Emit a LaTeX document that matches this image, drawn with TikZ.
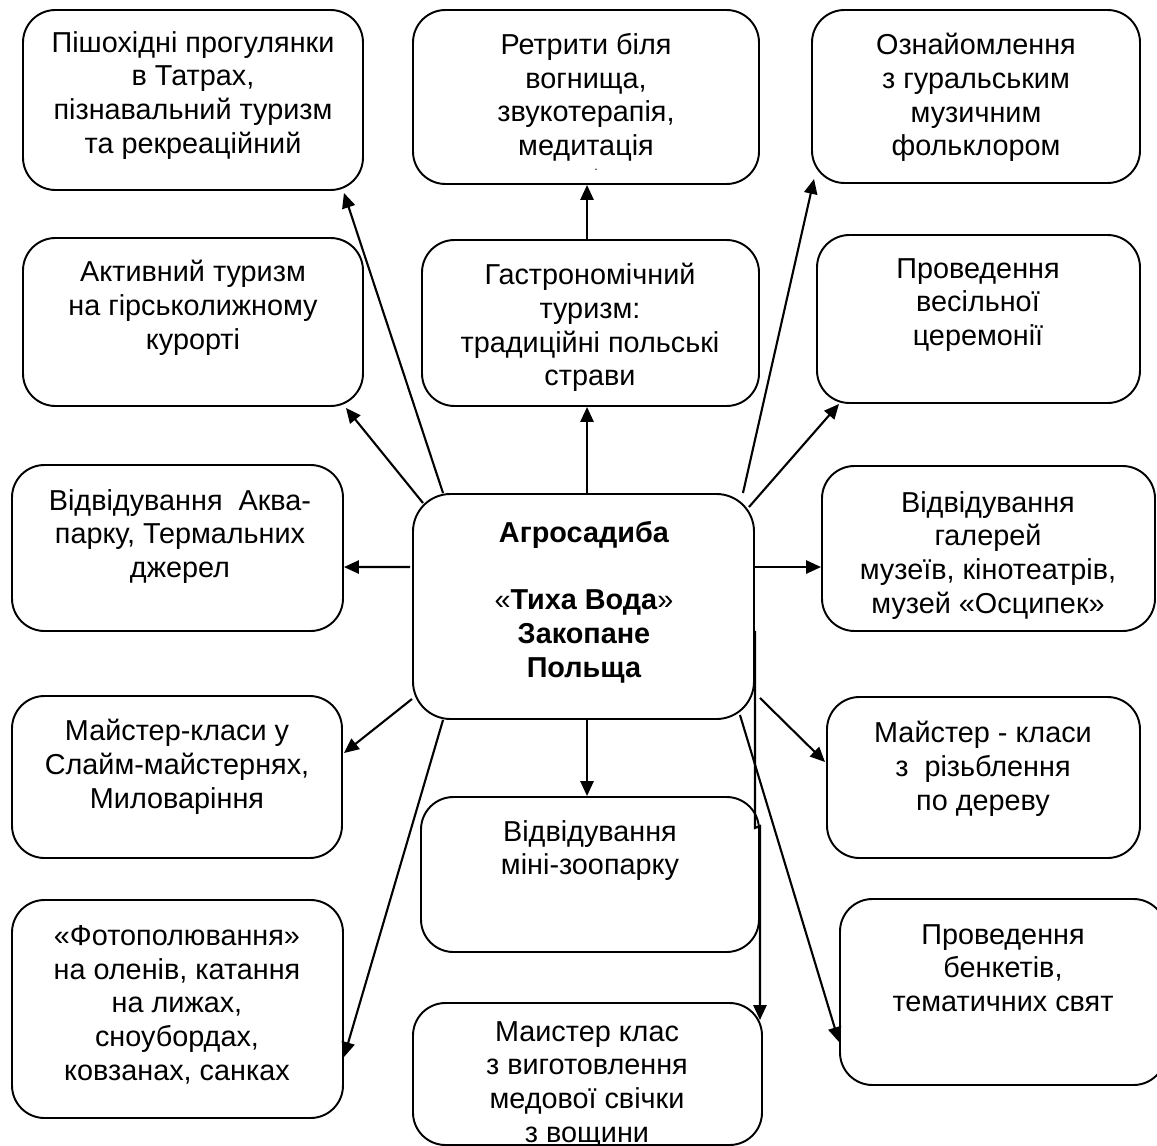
\documentclass[tikz,border=0pt]{standalone}
\usepackage{fontspec}
\setmainfont{Liberation Sans}
\usetikzlibrary{arrows.meta,calc,fit}
\begin{document}
\begin{tikzpicture}[x=0.02cm,y=-0.02cm,
  box/.style={draw,line width=1.1pt,rounded corners=0.65cm,inner sep=0pt},
  lbl/.style={anchor=north,align=center,inner sep=0pt,font=\fontsize{16.4}{19.2}\selectfont},
  arr/.style={line width=1.2pt,-{Triangle[length=8.5pt,width=7.5pt]}}]
\useasboundingbox (0,0) rectangle (1157,1146);
% boxes
\node[box,fit={(23,10) (363,190)}] (b1) {};
\node[box,fit={(413,10) (759,184)}] (b2) {};
\node[box,fit={(812,10) (1140,183)}] (b3) {};
\node[box,fit={(23,238) (363,406)}] (b4) {};
\node[box,fit={(422,240) (759,406)}] (b5) {};
\node[box,fit={(817,235) (1140,403)}] (b6) {};
\node[box,fit={(12,465) (343,631)}] (b7) {};
\node[box,rounded corners=0.75cm,fit={(413,494) (754,719)}] (c) {};
\node[box,fit={(822,466) (1155,631)}] (b9) {};
\node[box,fit={(12,696) (342,858)}] (b10) {};
\node[box,fit={(421,797) (759,952)}] (b11) {};
\node[box,fit={(827,697) (1140,858)}] (b12) {};
\node[box,fit={(12,900) (343,1118)}] (b13) {};
\node[box,fit={(413,1003) (762,1145)}] (b14) {};
\node[box,fit={(840,899) (1166,1085)}] (b15) {};
% labels
\node[lbl] (t1) at (193,31) {Пішохідні прогулянки\\в Татрах,\\пізнавальний туризм\\та рекреаційний};
\node[lbl] (t2) at (586,33) {Ретрити біля\\вогнища,\\звукотерапія,\\медитація};
\node[anchor=base,inner sep=0pt,font=\fontsize{7}{8}\selectfont] (t2dot) at (596,170) {.};
\node[lbl] (t3) at (976,33) {Ознайомлення\\з гуральським\\музичним\\фольклором};
\node[lbl] (t4) at (193,260) {Активний туризм\\на гірськолижному\\курорті};
\node[lbl] (t5) at (590,263) {Гастрономічний\\туризм:\\традиційні польські\\страви};
\node[lbl] (t6) at (978,258) {Проведення\\весільної\\церемонії};
\node[lbl] (t7) at (180,489) {Відвідування\ \ Аква-\\парку, Термальних\\джерел};
\node[lbl] (tc) at (584,521) {\textbf{Агросадиба}\\[19pt]«\textbf{Тиха Вода}»\\\textbf{Закопане}\\\textbf{Польща}};
\node[lbl] (t9) at (988,491) {Відвідування\\галерей\\музеїв, кінотеатрів,\\музей «Осципек»};
\node[lbl] (t10) at (177,719) {Майстер-класи у\\Слайм-майстернях,\\Миловаріння};
\node[lbl] (t11) at (590,820) {Відвідування\\міні-зоопарку};
\node[lbl] (t12) at (983,721) {Майстер - класи\\з\ \ різьблення\\по дереву};
\node[lbl] (t13) at (177,925) {«Фотополювання»\\на оленів, катання\\на лижах,\\сноубордах,\\ковзанах, санках};
\node[lbl] (t14) at (587,1021) {Маистер клас\\з виготовлення\\медової свічки\\з вощини};
\node[lbl] (t15) at (1003,924) {Проведення\\бенкетів,\\тематичних свят};
% connectors
\draw[arr] ($(c.north west)+(31,0)$) -- ($(b1.south east)+(-20,2)$);
\draw[arr] ($(c.north west)+(11,10)$) -- ($(b4.south east)+(-18,1)$);
\draw[arr] ($(c.north west)+(-2,74)$) -- ($(b7.north east)+(0,103)$);
\draw[arr] ($(c.south west)+(0,-21)$) -- ($(b10.north east)+(1,58)$);
\draw[arr] ($(c.south west)+(31,0)$) -- ($(b13.north east)+(0,158)$);
\draw[arr] ($(c.north west)+(175,0)$) -- ($(b5.south west)+(166,0)$);
\draw[arr] ($(b5.north west)+(166,0)$) -- ($(b2.south west)+(175,0)$);
\draw[arr] ($(c.south west)+(175,0)$) -- ($(b11.north west)+(167,0)$);
\draw[arr] ($(c.north east)+(-12,0)$) -- ($(b3.south west)+(3,-5)$);
\draw[arr] ($(c.north east)+(-6,14)$) -- ($(b6.south west)+(23,0)$);
\draw[arr] ($(c.north east)+(0,74)$) -- ($(b9.north west)+(0,102)$);
\draw[arr] ($(c.south east)+(5,-22)$) -- ($(b12.north west)+(-1,66)$);
\draw[arr] ($(c.south east)+(-15,-5)$) -- ($(b15.north west)+(0,144)$);
\draw[arr] ($(c.south east)+(0,-89)$) -- ($(c.south east)+(0,108)$) -- ($(b11.north east)+(0,30)$) -- ($(b14.north east)+(-3,18)$);
\end{tikzpicture}
\end{document}
